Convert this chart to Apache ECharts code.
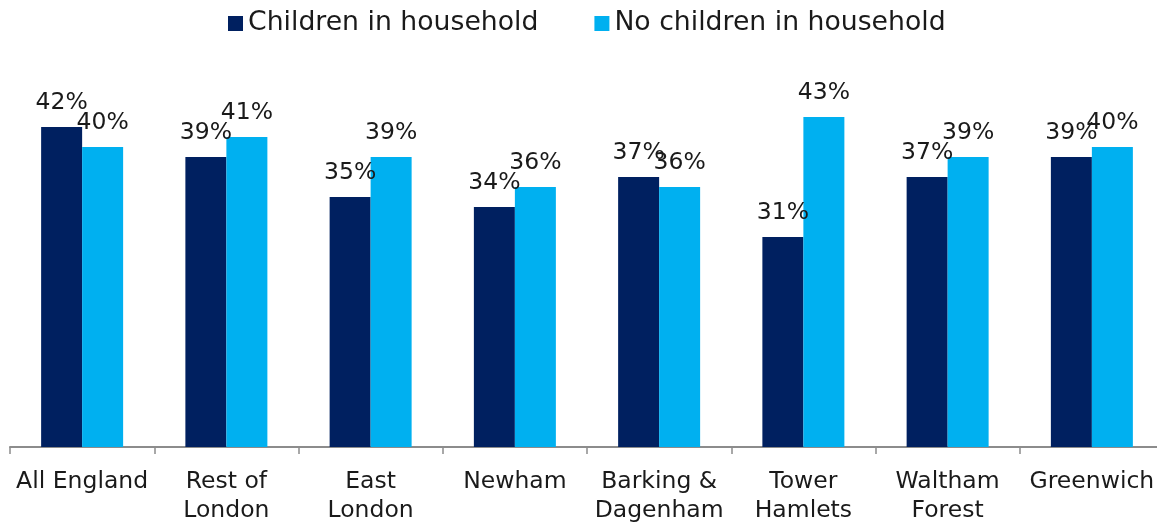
<!DOCTYPE html>
<html>
<head>
<meta charset="utf-8">
<style>
  html, body { margin: 0; padding: 0; background: #ffffff; }
  #chart { width: 1157px; height: 522px; }
</style>
<script src="https://cdn.jsdelivr.net/npm/echarts@6/dist/echarts.min.js"></script>
</head>
<body>
<div id="chart"></div>
<script>
// Share of residents, by area and household type (%)
const categories = [
  'All England', 'Rest of\nLondon', 'East\nLondon', 'Newham',
  'Barking &\nDagenham', 'Tower\nHamlets', 'Waltham\nForest', 'Greenwich'
];
const seriesNames = ['Children in household', 'No children in household'];
const withChildren = [42, 39, 35, 34, 37, 31, 37, 39];
const noChildren = [40, 41, 39, 36, 36, 43, 39, 40];

const FONT = '"DejaVu Sans", Verdana, sans-serif';
const DARK = '#002060';
const LIGHT = '#00B0F0';

const chart = echarts.init(document.getElementById('chart'));

function barSeries(name, data, color) {
  return {
    name: name,
    type: 'bar',
    data: data,
    barWidth: 41,
    barGap: '0%',
    itemStyle: { color: color },
    label: {
      show: true,
      position: 'top',
      distance: 12,
      formatter: p => p.value + '%',
      fontFamily: FONT,
      fontSize: 23.5,
      color: '#1a1a1a'
    }
  };
}

chart.setOption({
  animation: false,
  textStyle: { fontFamily: FONT },
  legend: {
    top: 5,
    left: 223,
    itemWidth: 15,
    itemHeight: 15,
    itemGap: 56,
    icon: 'rect',
    textStyle: { fontFamily: FONT, fontSize: 26.7, color: '#1a1a1a' },
    data: seriesNames
  },
  grid: {
    left: 10, width: 1154, top: 47, bottom: 75,
    containLabel: false,
    outerBoundsMode: 'none'
  },
  xAxis: {
    type: 'category',
    data: categories,
    axisLine: { lineStyle: { color: '#8c8c8c', width: 2 } },
    axisTick: { show: true, length: 7, lineStyle: { color: '#8c8c8c', width: 1.5 } },
    axisLabel: {
      interval: 0,
      margin: 21,
      fontFamily: FONT,
      fontSize: 23.5,
      lineHeight: 28.5,
      color: '#1a1a1a'
    }
  },
  yAxis: {
    type: 'value',
    min: 10,
    max: 50,
    show: false,
    splitLine: { show: false }
  },
  series: [
    barSeries(seriesNames[0], withChildren, DARK),
    barSeries(seriesNames[1], noChildren, LIGHT)
  ]
});
</script>
</body>
</html>
